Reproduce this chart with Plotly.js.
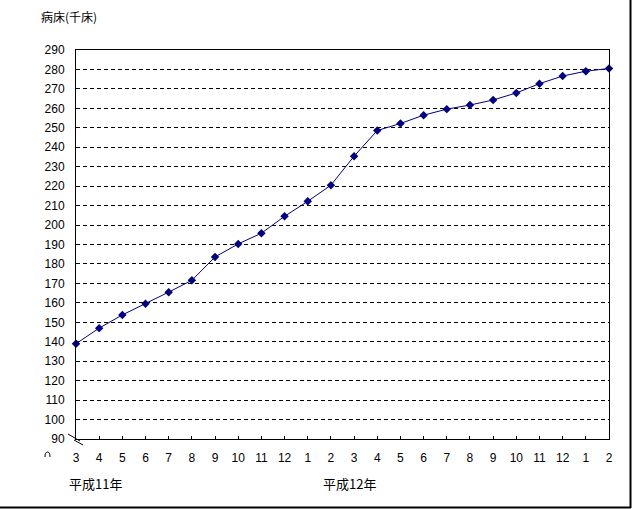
<!DOCTYPE html>
<html>
<head>
<meta charset="utf-8">
<script src="https://cdn.plot.ly/plotly-3.0.1.min.js"></script>
<style>
  html, body { margin: 0; padding: 0; background: #fff; }
  #chart { width: 632px; height: 509px; }
</style>
</head>
<body>
<div id="chart"></div>
<script>
// Month labels (平成11年3月 〜 平成13年2月)
const monthLabels = ["3","4","5","6","7","8","9","10","11","12","1","2",
                     "3","4","5","6","7","8","9","10","11","12","1","2"];
// 病床数（千床）
const beds = [139, 147, 153.8, 159.5, 165.5, 171.6, 183.6, 190.3, 195.8, 204.5, 212.2, 220.5,
              235.4, 248.6, 252.2, 256.5, 259.6, 261.7, 264.3, 267.9, 272.7, 276.6, 279.1, 280.5];
const yTicks = [90,100,110,120,130,140,150,160,170,180,190,200,210,220,230,240,250,260,270,280,290];
const yTitle = "病床(千床)";
const yearLabels = ["平成11年", "平成12年"];

const idx = monthLabels.map((_, i) => i);

// pixel -> paper helpers (plot area: x 76..609, y 50..439)
const L = 76, R = 609, T = 50, B = 439;
const W = 632, H = 509;
const px = x => (x - L) / (R - L);
const py = y => (B - y) / (B - T);

const numFont = {family: "Liberation Sans, Arial, sans-serif", size: 12, color: "#000"};
const jpFont = {family: "Noto Sans CJK JP, sans-serif", size: 12, color: "#000"};
const jpFont2 = {family: "Noto Sans CJK JP, sans-serif", size: 13, color: "#000"};

const trace = {
  x: idx,
  y: beds,
  type: "scatter",
  mode: "lines+markers",
  line: {color: "#000080", width: 1},
  marker: {symbol: "diamond", size: 6.5, color: "#000080"},
  cliponaxis: false,
  hoverinfo: "skip"
};

const layout = {
  width: W, height: H,
  margin: {l: L, r: W - R, t: T, b: H - B},
  paper_bgcolor: "#fff",
  plot_bgcolor: "#fff",
  showlegend: false,
  xaxis: {
    range: [0, 23],
    tickvals: idx,
    ticktext: monthLabels,
    ticks: "inside",
    ticklen: 3,
    tickcolor: "#000",
    showgrid: false,
    zeroline: false,
    showline: true,
    linecolor: "#000",
    linewidth: 1,
    mirror: true,
    tickfont: numFont,
    ticklabelstandoff: 8,
    fixedrange: true
  },
  yaxis: {
    range: [90, 290],
    tickvals: yTicks,
    ticks: "",
    showgrid: true,
    gridcolor: "#000",
    gridwidth: 1,
    griddash: "4px,3px",
    zeroline: false,
    showline: true,
    linecolor: "#000",
    linewidth: 1,
    mirror: true,
    tickfont: numFont,
    ticklabelstandoff: 8,
    fixedrange: true
  },
  annotations: [
    {text: yTitle, xref: "paper", yref: "paper", x: px(39), y: py(16),
     xanchor: "left", yanchor: "middle", showarrow: false, font: jpFont},
    {text: yearLabels[0], xref: "paper", yref: "paper", x: px(67), y: py(484),
     xanchor: "left", yanchor: "middle", showarrow: false, font: jpFont2},
    {text: yearLabels[1], xref: "paper", yref: "paper", x: px(321), y: py(484),
     xanchor: "left", yanchor: "middle", showarrow: false, font: jpFont2}
  ],
  shapes: [
    // axis break marks
    {type: "line", xref: "paper", yref: "paper", x0: px(68), y0: py(434), x1: px(80), y1: py(441),
     line: {color: "#000", width: 1}},
    {type: "line", xref: "paper", yref: "paper", x0: px(74), y0: py(440), x1: px(83), y1: py(445),
     line: {color: "#000", width: 1}},
    // partially visible "0" under the break
    {type: "path", xref: "paper", yref: "paper",
     path: `M ${px(45)},${py(457)} Q ${px(45)},${py(452)} ${px(47.5)},${py(452)} Q ${px(50)},${py(452)} ${px(50)},${py(457)}`,
     line: {color: "#000", width: 1}},
    // outer frame (right and bottom)
    {type: "line", xref: "paper", yref: "paper", x0: px(630.5), y0: py(0), x1: px(630.5), y1: py(508),
     line: {color: "#000", width: 2}},
    {type: "line", xref: "paper", yref: "paper", x0: px(0), y0: py(507.5), x1: px(631), y1: py(507.5),
     line: {color: "#000", width: 2}}
  ]
};

Plotly.newPlot("chart", [trace], layout, {staticPlot: true, displayModeBar: false});
</script>
</body>
</html>
